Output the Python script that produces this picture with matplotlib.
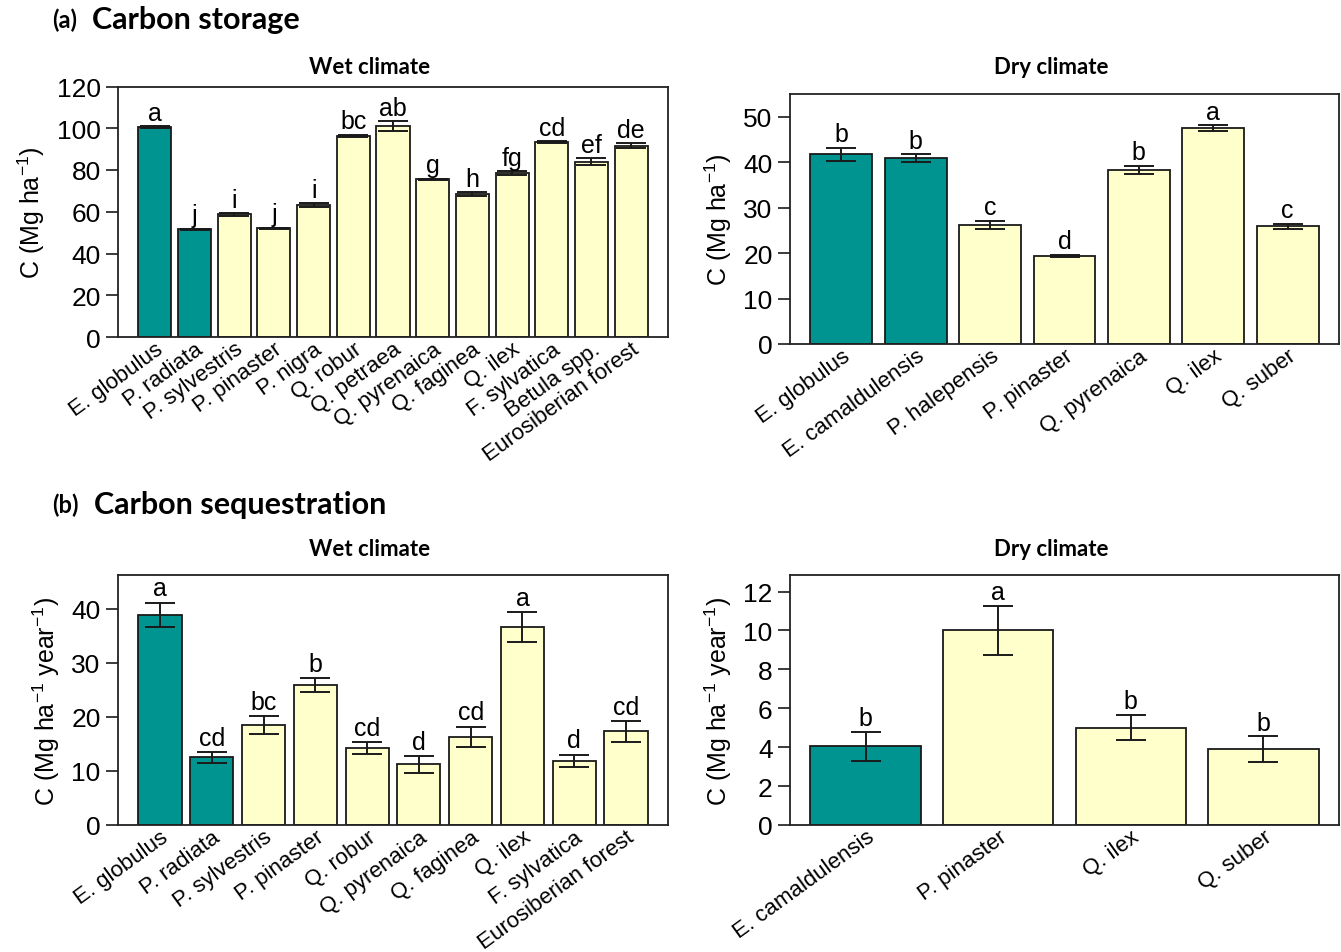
import matplotlib
matplotlib.use("Agg")
import matplotlib.pyplot as plt
import numpy as np

plt.rcParams['font.family'] = ['Liberation Sans', 'DejaVu Sans']
plt.rcParams['mathtext.default'] = 'regular'

TEAL = '#009490'
CREAM = '#FFFFCC'

# (a) carbon storage, wet climate
storage_wet_names = ['E. globulus', 'P. radiata', 'P. sylvestris', 'P. pinaster', 'P. nigra',
                     'Q. robur', 'Q. petraea', 'Q. pyrenaica', 'Q. faginea', 'Q. ilex',
                     'F. sylvatica', 'Betula spp.', 'Eurosiberian forest']
storage_wet_mean = [100.5, 51.6, 58.7, 52.1, 63.2, 96.5, 101.0, 75.5, 68.4, 78.6, 93.5, 84.0, 91.5]
storage_wet_err = [0.5, 0.3, 0.5, 0.3, 0.9, 0.5, 2.4, 0.4, 0.9, 0.9, 0.4, 1.8, 1.2]
storage_wet_letters = ['a', 'j', 'i', 'j', 'i', 'bc', 'ab', 'g', 'h', 'fg', 'cd', 'ef', 'de']
storage_wet_exotic = [True, True] + [False] * 11

# (a) carbon storage, dry climate
storage_dry_names = ['E. globulus', 'E. camaldulensis', 'P. halepensis', 'P. pinaster',
                     'Q. pyrenaica', 'Q. ilex', 'Q. suber']
storage_dry_mean = [41.7, 40.9, 26.2, 19.4, 38.2, 47.5, 25.9]
storage_dry_err = [1.4, 0.8, 0.9, 0.2, 0.9, 0.6, 0.5]
storage_dry_letters = ['b', 'b', 'c', 'd', 'b', 'a', 'c']
storage_dry_exotic = [True, True, False, False, False, False, False]

# (b) carbon sequestration, wet climate
seq_wet_names = ['E. globulus', 'P. radiata', 'P. sylvestris', 'P. pinaster', 'Q. robur',
                 'Q. pyrenaica', 'Q. faginea', 'Q. ilex', 'F. sylvatica', 'Eurosiberian forest']
seq_wet_mean = [38.8, 12.5, 18.5, 25.8, 14.2, 11.2, 16.3, 36.6, 11.9, 17.3]
seq_wet_err = [2.3, 1.0, 1.6, 1.3, 1.1, 1.5, 1.9, 2.8, 1.1, 1.9]
seq_wet_letters = ['a', 'cd', 'bc', 'b', 'cd', 'd', 'cd', 'a', 'd', 'cd']
seq_wet_exotic = [True, True] + [False] * 8

# (b) carbon sequestration, dry climate
seq_dry_names = ['E. camaldulensis', 'P. pinaster', 'Q. ilex', 'Q. suber']
seq_dry_mean = [4.05, 10.0, 5.0, 3.9]
seq_dry_err = [0.75, 1.25, 0.65, 0.65]
seq_dry_letters = ['b', 'a', 'b', 'b']
seq_dry_exotic = [True, False, False, False]

W, H = 1341, 953
fig = plt.figure(figsize=(W / 100, H / 100), dpi=100)


def px_axes(left, top, right, bottom):
    return fig.add_axes([left / W, 1 - bottom / H, (right - left) / W, (bottom - top) / H])


def barpanel(ax, names, mean, err, letters, exotic, ylim, yticks, ylabel, gap):
    # R barplot layout: width 1, space 0.2, 4% padding
    n = len(names)
    x = 0.7 + 1.2 * np.arange(n)
    pad = 0.04 * (1.2 * n - 0.2)
    colors = [TEAL if e else CREAM for e in exotic]
    ax.bar(x, mean, width=1.0, color=colors, edgecolor='#1a1a1a', linewidth=1.3, zorder=2)
    ax.errorbar(x, mean, yerr=err, fmt='none', ecolor='#1a1a1a', elinewidth=1.4,
                capsize=11, capthick=1.4, zorder=3)
    for xi, m, e, lab in zip(x, mean, err, letters):
        ax.text(xi, m + e + gap, lab, ha='center', va='bottom', fontsize=18)
    ax.set_xlim(0.2 - pad, 1.2 * n + pad)
    ax.set_ylim(*ylim)
    ax.set_yticks(yticks)
    ax.set_xticks(x)
    ax.set_xticklabels(names, rotation=36, ha='right', va='top', rotation_mode='anchor')
    ax.tick_params(axis='x', length=0, pad=1, labelsize=16)
    ax.tick_params(axis='y', length=8.5, width=1.2, pad=4, labelsize=19, color='#1a1a1a')
    for s in ax.spines.values():
        s.set_linewidth(1.3)
        s.set_color('#222222')
    ax.set_ylabel(ylabel, fontsize=18, labelpad=7)


ax1 = px_axes(118, 87.5, 668, 338)
barpanel(ax1, storage_wet_names, storage_wet_mean, storage_wet_err, storage_wet_letters,
         storage_wet_exotic, (0, 120), range(0, 121, 20), 'C (Mg ha$^{-1}$)', 0.6)

ax2 = px_axes(790, 95, 1339, 345)
barpanel(ax2, storage_dry_names, storage_dry_mean, storage_dry_err, storage_dry_letters,
         storage_dry_exotic, (0, 55), range(0, 51, 10), 'C (Mg ha$^{-1}$)', 0.4)

ax3 = px_axes(118, 576, 668, 826)
barpanel(ax3, seq_wet_names, seq_wet_mean, seq_wet_err, seq_wet_letters,
         seq_wet_exotic, (0, 46.2), range(0, 41, 10), 'C (Mg ha$^{-1}$ year$^{-1}$)', 0.4)

ax4 = px_axes(790, 576, 1339, 826)
barpanel(ax4, seq_dry_names, seq_dry_mean, seq_dry_err, seq_dry_letters,
         seq_dry_exotic, (0, 12.85), range(0, 13, 2), 'C (Mg ha$^{-1}$ year$^{-1}$)', 0.1)

# panel headings
head = dict(family=['Lato', 'DejaVu Sans'], va='center', fontweight='bold')
fig.text(52 / W, 1 - 20 / H, '(a)', fontsize=17, ha='left', **head)
fig.text(92 / W, 1 - 20 / H, 'Carbon storage', fontsize=22, ha='left', **head)
fig.text(52 / W, 1 - 505 / H, '(b)', fontsize=17, ha='left', **head)
fig.text(94 / W, 1 - 505 / H, 'Carbon sequestration', fontsize=22, ha='left', **head)
for yy in (67, 550):
    fig.text(370 / W, 1 - yy / H, 'Wet climate', fontsize=16, ha='center', **head)
    fig.text(1051 / W, 1 - yy / H, 'Dry climate', fontsize=16, ha='center', **head)

fig.savefig('out.png', dpi=100)
